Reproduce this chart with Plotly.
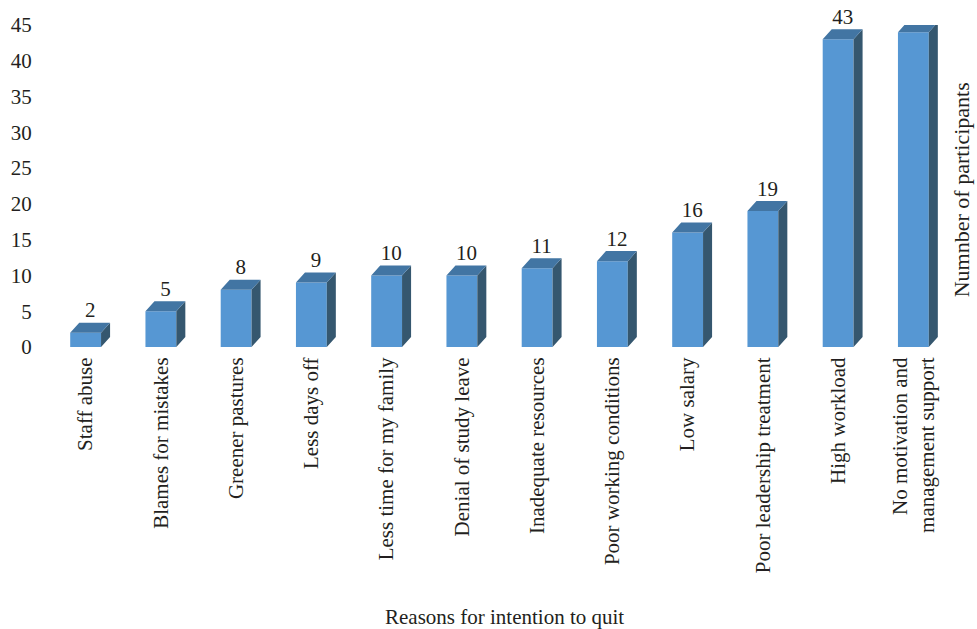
import plotly.graph_objects as go

categories = ["Staff abuse", "Blames for mistakes", "Greener pastures", "Less days off",
              "Less time for my family", "Denial of study leave", "Inadequate resources",
              "Poor working conditions", "Low salary", "Poor leadership treatment",
              "High workload", "No motivation and<br>management support"]
values = [2, 5, 8, 9, 10, 10, 11, 12, 16, 19, 43, 44]
y_ticks = [0, 5, 10, 15, 20, 25, 30, 35, 40, 45]

FONT = "Liberation Serif, Times New Roman, serif"
TXT = "#231f20"
FRONT = "#5697d3"
TOP = "#4275a3"
SIDE = "#35576f"

half_w = 0.205     # half bar width (category units)
dx = 0.12          # depth offset, x (category units)
dy = 1.4           # depth offset, y (value units)

xs = list(range(len(categories)))

top_x, top_y, side_x, side_y = [], [], [], []
for x, v in zip(xs, values):
    l, r = x - half_w, x + half_w
    top_x += [l, l + dx, r + dx, r, l, None]
    top_y += [v, v + dy, v + dy, v, v, None]
    side_x += [r, r + dx, r + dx, r, r, None]
    side_y += [0, dy, v + dy, v, 0, None]

fig = go.Figure()
fig.add_trace(go.Bar(x=xs, y=values, width=2 * half_w, marker=dict(color=FRONT, line=dict(width=0)),
                     hoverinfo="skip"))
fig.add_trace(go.Scatter(x=side_x, y=side_y, mode="lines", fill="toself", fillcolor=SIDE,
                         line=dict(width=0, color=SIDE), hoverinfo="skip"))
fig.add_trace(go.Scatter(x=top_x, y=top_y, mode="lines", fill="toself", fillcolor=TOP,
                         line=dict(width=0, color=TOP), hoverinfo="skip"))
fig.add_trace(go.Scatter(x=[x + dx / 2 for x in xs], y=[v + dy for v in values], mode="text",
                         text=[str(v) for v in values], textposition="top center",
                         textfont=dict(family=FONT, size=21, color=TXT), cliponaxis=False,
                         hoverinfo="skip"))

fig.update_layout(
    width=977, height=629,
    margin=dict(l=48, r=26, t=25, b=282),
    paper_bgcolor="white", plot_bgcolor="white",
    showlegend=False,
    font=dict(family=FONT, size=21, color=TXT),
    xaxis=dict(range=[-0.5, 11.5], tickvals=xs, ticktext=categories, tickangle=-90,
               showgrid=False, zeroline=False, showline=False, ticks="outside",
               ticklen=1, tickcolor="rgba(0,0,0,0)", automargin=False,
               tickfont=dict(family=FONT, size=21, color=TXT)),
    yaxis=dict(range=[0, 45], tickvals=y_ticks, showgrid=False, zeroline=False, showline=False,
               ticks="outside", ticklen=11, tickcolor="rgba(0,0,0,0)", automargin=False,
               tickfont=dict(family=FONT, size=21, color=TXT)),
    annotations=[
        dict(text="Reasons for intention to quit", xref="paper", yref="paper", x=0.505, y=-0.8385,
             xanchor="center", yanchor="middle", showarrow=False,
             font=dict(family=FONT, size=21, color=TXT)),
        dict(text="Numnber of participants", xref="paper", yref="paper", x=1.0125, y=0.4876,
             xanchor="center", yanchor="middle", textangle=-90, showarrow=False,
             font=dict(family=FONT, size=22, color=TXT)),
    ],
)

fig.write_html("out.html", config={"displayModeBar": False},
               post_script="document.body.style.margin='0';")
